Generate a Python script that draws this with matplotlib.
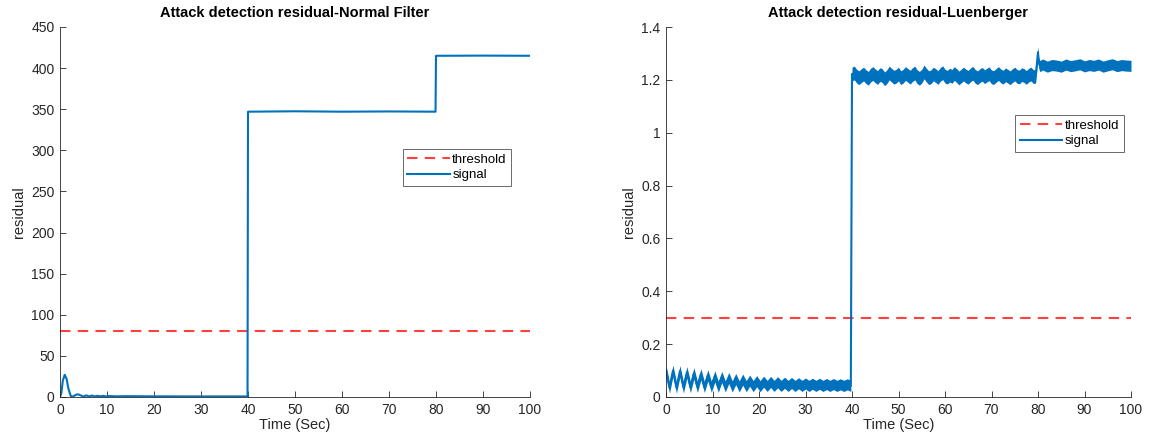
import numpy as np
import matplotlib
matplotlib.use('Agg')
import matplotlib.pyplot as plt

plt.rcParams['font.family'] = ['Liberation Sans', 'DejaVu Sans']

BLUE = '#0072BD'
RED = '#FF4040'
DARK = '#262626'

# ---- left panel: normal filter residual ----
nf_time = [0, 0.3, 0.6, 1.0, 1.4, 1.8, 2.3, 2.8, 3.3, 3.8, 4.4, 5.0, 5.6, 6.2,
           6.8, 7.4, 8.0, 8.6, 9.2, 9.8, 10.5, 12, 14, 20, 30, 39.9,
           40.0, 50, 60, 70, 79.9, 80.0, 90, 100]
nf_value = [0, 5, 20, 27, 22, 10, 1, 0.5, 2.5, 3.3, 2, 0.5, 2, 0.6,
            1.8, 0.6, 1.5, 0.7, 1.4, 0.7, 1.2, 0.8, 1.0, 0.8, 0.7, 0.7,
            347, 347.5, 347, 347.3, 347, 415, 415.2, 415]
nf_threshold = 80

# ---- right panel: Luenberger residual (band centre and noise half-width) ----
lu_time_a = np.arange(0, 40, 0.75)
lu_centre_a = [0.100, 0.035, 0.100, 0.035, 0.098, 0.036, 0.094, 0.037, 0.090,
               0.038, 0.086, 0.038, 0.082, 0.039, 0.078, 0.039, 0.076, 0.040,
               0.072, 0.040, 0.068, 0.040, 0.066, 0.041, 0.062, 0.041, 0.060,
               0.041, 0.058, 0.042, 0.057, 0.042, 0.056, 0.042, 0.054, 0.042,
               0.053, 0.042, 0.052, 0.042, 0.051, 0.042, 0.050, 0.042, 0.050,
               0.042, 0.049, 0.042, 0.049, 0.042, 0.048, 0.042, 0.048, 0.042]
lu_hw_a = 0.021

lu_time_b = np.arange(40, 80, 0.5)
lu_centre_b = [1.222, 1.226, 1.214, 1.208, 1.216, 1.222, 1.212, 1.206, 1.218,
               1.224, 1.215, 1.209, 1.220, 1.216, 1.204, 1.212, 1.226, 1.218,
               1.210, 1.214, 1.222, 1.208, 1.214, 1.224, 1.217, 1.210, 1.220,
               1.226, 1.212, 1.206, 1.214, 1.230, 1.218, 1.208, 1.212, 1.222,
               1.216, 1.209, 1.221, 1.227, 1.214, 1.210, 1.218, 1.213, 1.224,
               1.216, 1.207, 1.215, 1.222, 1.214, 1.210, 1.219, 1.225, 1.213,
               1.208, 1.216, 1.221, 1.212, 1.218, 1.223, 1.211, 1.209, 1.217,
               1.224, 1.215, 1.210, 1.219, 1.214, 1.208, 1.216, 1.222, 1.213,
               1.211, 1.220, 1.216, 1.209, 1.218, 1.222, 1.212, 1.214]
lu_hw_b = 0.026

lu_time_c = [80.0, 80.15, 80.4, 81, 82, 83, 84, 85, 86, 87, 88, 89, 90, 91, 92,
             93, 94, 95, 96, 97, 98, 99, 100]
lu_centre_c = [1.305, 1.265, 1.252, 1.258, 1.250, 1.256, 1.254, 1.250, 1.258,
               1.252, 1.255, 1.259, 1.251, 1.256, 1.253, 1.258, 1.250, 1.255,
               1.259, 1.252, 1.256, 1.254, 1.253]
lu_hw_c = 0.021
lu_threshold = 0.3

lu_yticks = [0, 0.2, 0.4, 0.6, 0.8, 1.0, 1.2, 1.4]
lu_yticklabels = ['0', '0.2', '0.4', '0.6', '0.8', '1', '1.2', '1.4']


def style_axes(ax):
    for side in ('top', 'right'):
        ax.spines[side].set_visible(False)
    for side in ('left', 'bottom'):
        ax.spines[side].set_color(DARK)
        ax.spines[side].set_linewidth(0.6)
    ax.tick_params(direction='in', length=4, width=0.6, colors=DARK,
                   labelsize=10, pad=4)
    ax.set_xlim(0, 100)
    ax.set_xticks(np.arange(0, 101, 10))
    ax.set_xlabel('Time (Sec)', fontsize=10.5, color=DARK, labelpad=1)
    ax.set_ylabel('residual', fontsize=10.5, color=DARK, labelpad=4)


def add_legend(ax, x0, y0, x1, y1, fig_w=1150, fig_h=445):
    leg = ax.legend(loc='center', fontsize=9.5,
                    bbox_to_anchor=(x0 / fig_w, 1 - y1 / fig_h,
                                    (x1 - x0) / fig_w, (y1 - y0) / fig_h),
                    bbox_transform=ax.figure.transFigure,
                    frameon=True, fancybox=False, handlelength=3.2,
                    handletextpad=0.2, borderpad=0.35, labelspacing=0.25,
                    borderaxespad=0)
    leg.get_frame().set_edgecolor(DARK)
    leg.get_frame().set_linewidth(0.6)


fig = plt.figure(figsize=(11.5, 4.45), dpi=100)
ax1 = fig.add_axes([60 / 1150, 48 / 445, 470 / 1150, 370 / 445])
ax2 = fig.add_axes([666 / 1150, 48 / 445, 465 / 1150, 370 / 445])

# left panel
ax1.axhline(nf_threshold, color=RED, ls=(0, (5, 3.5)), lw=1.5, label='threshold')
ax1.plot(nf_time, nf_value, color=BLUE, lw=1.5, label='signal')
style_axes(ax1)
ax1.set_ylim(0, 450)
ax1.set_yticks(np.arange(0, 451, 50))
ax1.set_title('Attack detection residual-Normal Filter', fontsize=10.5,
              fontweight='bold', color='black', pad=7)
add_legend(ax1, 403, 148, 511, 187)

# right panel
lu_time = np.concatenate([lu_time_a, lu_time_b, lu_time_c])
lu_centre = np.concatenate([lu_centre_a, lu_centre_b, lu_centre_c])
lu_hw = np.concatenate([np.full(len(lu_time_a), lu_hw_a),
                        np.full(len(lu_time_b), lu_hw_b),
                        np.full(len(lu_time_c), lu_hw_c)])
ax2.axhline(lu_threshold, color=RED, ls=(0, (5, 3.5)), lw=1.5, label='threshold')
ax2.fill_between(lu_time, lu_centre - lu_hw, lu_centre + lu_hw,
                 color=BLUE, lw=0)
ax2.plot(lu_time, lu_centre, color=BLUE, lw=1.5, label='signal')
style_axes(ax2)
ax2.set_ylim(0, 1.4)
ax2.set_yticks(lu_yticks)
ax2.set_yticklabels(lu_yticklabels)
ax2.set_title('Attack detection residual-Luenberger', fontsize=10.5,
              fontweight='bold', color='black', pad=7)
add_legend(ax2, 1015, 114, 1124, 153)

fig.savefig('out.png', dpi=100)
